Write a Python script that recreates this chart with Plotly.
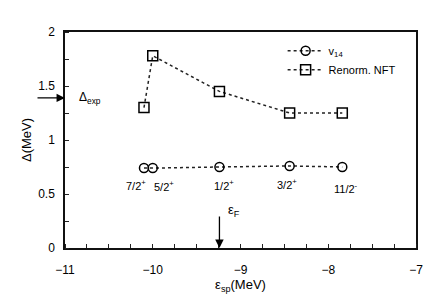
import plotly.graph_objects as go

# data
e_sp = [-10.10, -10.00, -9.24, -8.44, -7.84]
gap_v14 = [0.74, 0.74, 0.75, 0.76, 0.75]
gap_nft = [1.30, 1.78, 1.45, 1.25, 1.25]
state_labels = ["7/2<sup>+</sup>", "5/2<sup>+</sup>", "1/2<sup>+</sup>", "3/2<sup>+</sup>", "11/2<sup>-</sup>"]
label_x = [-10.19, -9.87, -9.19, -8.47, -7.80]
label_y = [0.58, 0.575, 0.58, 0.595, 0.56]
delta_exp = 1.39
eps_F = -9.24

FONT = "Liberation Sans, Arial, sans-serif"

fig = go.Figure()
fig.add_trace(go.Scatter(
    x=e_sp, y=gap_v14, mode="lines+markers", name="v<sub>14</sub>",
    line=dict(color="#222", width=1.5, dash="dot"),
    marker=dict(symbol="circle-open", size=9, color="black", line=dict(width=1.5)),
))
fig.add_trace(go.Scatter(
    x=e_sp, y=gap_nft, mode="lines+markers", name="Renorm. NFT",
    line=dict(color="#222", width=1.5, dash="dot"),
    marker=dict(symbol="square-open", size=10, color="black", line=dict(width=1.5)),
))

for lx, ly, t in zip(label_x, label_y, state_labels):
    fig.add_annotation(x=lx, y=ly, text=t, showarrow=False, xref="x", yref="y",
                       font=dict(size=11, family=FONT, color="black"))

# Delta_exp arrow
fig.add_annotation(x=-11, y=delta_exp, ax=-29, ay=0, text="", showarrow=True,
                   arrowhead=2, arrowsize=1.3, arrowwidth=1.3, arrowcolor="black",
                   xref="x", yref="y")
fig.add_annotation(x=-10.72, y=delta_exp, text="Δ<sub>exp</sub>", showarrow=False,
                   font=dict(size=12, family=FONT, color="black"))

# eps_F arrow
fig.add_annotation(x=eps_F, y=0, ax=0, ay=-33, text="", showarrow=True,
                   arrowhead=2, arrowsize=1.3, arrowwidth=1.3, arrowcolor="black",
                   xref="x", yref="y")
fig.add_annotation(x=eps_F + 0.17, y=0.35, text="ε<sub>F</sub>", showarrow=False,
                   font=dict(size=13, family=FONT, color="black"))

fig.update_layout(
    width=440, height=300,
    margin=dict(l=57, r=32, t=24, b=60),
    paper_bgcolor="white", plot_bgcolor="white",
    font=dict(family=FONT, size=12, color="black"),
    showlegend=True,
    legend=dict(x=0.62, y=0.98, xanchor="left", yanchor="top",
                bgcolor="rgba(0,0,0,0)", font=dict(size=11),
                tracegroupgap=0, itemwidth=36),
    xaxis=dict(range=[-11, -7], tickvals=[-11, -10, -9, -8, -7],
               ticks="", ticklabelstandoff=10, showgrid=False, zeroline=False,
               showline=True, linecolor="#111", linewidth=1.5, mirror=True,
               minor=dict(dtick=0.25, ticks="inside", ticklen=4, tickcolor="#222", showgrid=False),
               title=dict(text="ε<sub>sp</sub>(MeV)", standoff=2, font=dict(size=13)),
               tickfont=dict(size=12)),
    yaxis=dict(range=[0, 2], tickvals=[0, 0.5, 1, 1.5, 2], ticktext=["0", "0.5", "1", "1.5", "2"],
               ticks="", ticklabelstandoff=6, showgrid=False, zeroline=False,
               showline=True, linecolor="#111", linewidth=1.5, mirror=True,
               minor=dict(dtick=0.25, ticks="inside", ticklen=4, tickcolor="#222", showgrid=False),
               title=dict(text="Δ(MeV)", standoff=4, font=dict(size=13)),
               tickfont=dict(size=12)),
)

fig.write_html("out.html")
